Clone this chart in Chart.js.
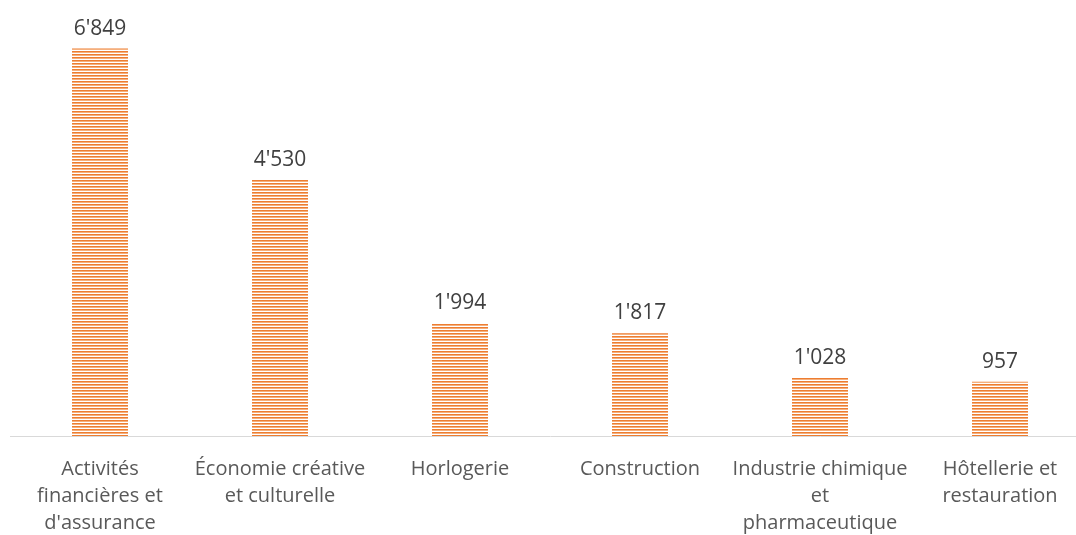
<!DOCTYPE html>
<html>
<head>
<meta charset="utf-8">
<script src="https://cdn.jsdelivr.net/npm/chart.js@4/dist/chart.umd.min.js"></script>
<style>
  html, body { margin: 0; padding: 0; background: #fff; overflow: hidden; }
  #wrap { width: 1076px; height: 535px; overflow: hidden; position: relative; }
  #box { width: 1100px; height: 557px; position: absolute; left: 0; top: 0; }
</style>
</head>
<body>
<div id="wrap"><div id="box"><canvas id="c"></canvas></div></div>
<script>
const categories = [
  ["Activités", "financières et", "d'assurance"],
  ["Économie créative", "et culturelle"],
  ["Horlogerie"],
  ["Construction"],
  ["Industrie chimique", "et", "pharmaceutique"],
  ["Hôtellerie et", "restauration"]
];
const values = [6849, 4530, 1994, 1817, 1028, 957];
const valueLabels = ["6'849", "4'530", "1'994", "1'817", "1'028", "957"];

function makePattern() {
  const p = document.createElement('canvas');
  p.width = 4; p.height = 3;
  const g = p.getContext('2d');
  g.fillStyle = '#FFFFFF'; g.fillRect(0, 0, 4, 3);
  g.fillStyle = '#ED7D31'; g.fillRect(0, 0, 4, 1);
  g.fillStyle = '#F5AF7C'; g.fillRect(0, 1, 4, 1);
  return document.getElementById('c').getContext('2d').createPattern(p, 'repeat');
}

const valueLabelPlugin = {
  id: 'valueLabels',
  afterDatasetsDraw(chart) {
    const ctx = chart.ctx;
    const meta = chart.getDatasetMeta(0);
    ctx.save();
    ctx.font = '21px "Open Sans", sans-serif';
    ctx.fillStyle = '#404040';
    ctx.textAlign = 'center';
    ctx.textBaseline = 'alphabetic';
    meta.data.forEach((bar, i) => {
      ctx.fillText(valueLabels[i], bar.x, bar.y - 14);
    });
    ctx.restore();
  }
};

new Chart(document.getElementById('c'), {
  type: 'bar',
  data: {
    labels: categories,
    datasets: [{
      data: values,
      backgroundColor: makePattern(),
      borderWidth: 0,
      barPercentage: 1,
      categoryPercentage: 0.311
    }]
  },
  options: {
    responsive: true,
    maintainAspectRatio: false,
    animation: false,
    layout: { padding: { top: 40, left: 10, right: 10, bottom: 0 } },
    plugins: { legend: { display: false }, tooltip: { enabled: false } },
    scales: {
      x: {
        grid: { display: true, drawOnChartArea: false, drawTicks: false, color: 'rgba(0,0,0,0)' },
        border: { display: true, color: '#D9D9D9', width: 1 },
        ticks: {
          color: '#595959',
          font: { family: '"Open Sans", sans-serif', size: 20, lineHeight: 1.35 },
          padding: 20,
          maxRotation: 0,
          autoSkip: false
        }
      },
      y: {
        display: false,
        min: 0,
        max: 7000
      }
    }
  },
  plugins: [valueLabelPlugin]
});
</script>
</body>
</html>
